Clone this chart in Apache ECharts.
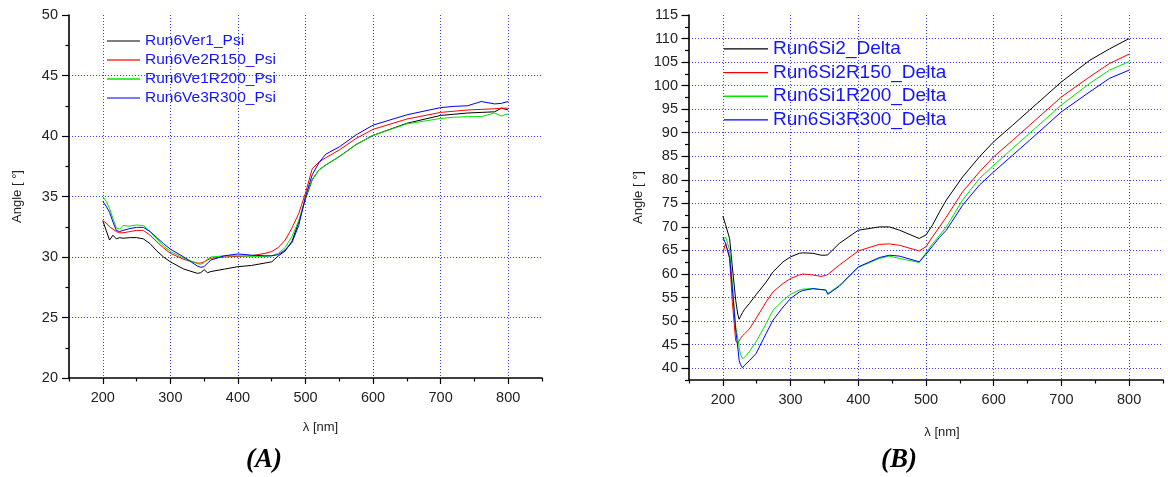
<!DOCTYPE html>
<html>
<head>
<meta charset="utf-8">
<script src="https://cdn.jsdelivr.net/npm/echarts@6/dist/echarts.min.js"></script>
<style>
html,body{margin:0;padding:0;background:#fff;}
#main{width:1168px;height:477px;}
</style>
</head>
<body>
<div id="main"></div>
<script>
// ---------- Data: chart (A) Psi ----------
const lambdaA = [200,205,210,215,220,225,230,240,250,260,270,280,290,300,320,340,345,350,355,360,380,400,420,440,450,460,470,480,490,500,510,520,530,550,575,600,650,700,720,740,760,780,790,800];
const psiVer1 = [33.0,32.2,31.4,31.8,31.5,31.6,31.55,31.6,31.6,31.5,31.1,30.5,30.0,29.6,29.0,28.65,28.7,28.95,28.7,28.8,29.0,29.2,29.3,29.5,29.6,30.1,30.5,31.3,32.9,34.8,36.4,37.2,37.6,38.3,39.3,40.05,41.05,41.7,41.8,41.9,41.95,42.0,42.3,42.15];
const psiR150 = [33.0,32.8,32.5,32.3,32.1,32.0,32.0,32.1,32.2,32.2,31.8,31.25,30.75,30.3,29.8,29.5,29.5,29.6,29.75,29.9,30.0,30.05,30.1,30.3,30.45,30.8,31.4,32.4,33.6,35.3,37.3,37.85,38.2,38.85,39.8,40.55,41.4,41.95,42.05,42.15,42.2,42.25,42.3,42.3];
const psiR200 = [35.0,34.6,34.0,33.2,32.4,32.3,32.6,32.55,32.65,32.6,32.1,31.5,30.9,30.45,29.9,29.45,29.4,29.55,29.85,30.0,30.1,30.1,30.05,30.05,30.1,30.3,30.8,31.7,33.0,34.9,36.4,37.2,37.6,38.3,39.3,40.05,41.0,41.45,41.55,41.6,41.6,41.9,41.65,41.85];
const psiR300 = [34.6,34.2,33.7,32.9,32.2,32.1,32.2,32.35,32.45,32.45,32.1,31.6,31.1,30.65,30.0,29.25,29.15,29.2,29.5,29.75,30.1,30.25,30.15,30.1,30.1,30.2,30.6,31.2,32.6,35.0,36.8,37.8,38.5,39.1,40.1,40.9,41.75,42.35,42.45,42.5,42.85,42.65,42.7,42.85];
const namesA = ['Run6Ver1_Psi','Run6Ve2R150_Psi','Run6Ve1R200_Psi','Run6Ve3R300_Psi'];

// ---------- Data: chart (B) Delta ----------
const lambdaB = [200,204,210,214,219,222,224,226,229,232,239,249,264,274,289,300,313,318,333,345,352,355,357,372,400,431,446,461,490,500,510,520,530,554,579,600,628,653,700,742,771,800];
const deltaSi2   = [72.3,70.5,67.5,61.5,54.4,51.5,50.4,51.0,51.8,52.5,53.7,55.6,58.3,60.45,62.6,63.65,64.4,64.5,64.4,64.0,64.0,64.1,64.2,66.5,69.3,70.0,70.0,69.3,67.55,68.3,70.5,73.2,75.7,80.6,84.9,88.1,91.6,94.8,100.8,105.4,107.8,110.0];
const deltaR150  = [64.4,66.5,63.3,54.0,45.8,45.3,45.6,46.3,46.9,47.3,48.3,50.55,54.1,56.2,58.0,59.05,59.8,60.0,59.8,59.5,59.7,59.9,60.0,61.9,64.9,66.3,66.4,66.1,64.9,65.8,68.0,70.0,72.1,77.45,81.7,84.9,88.4,91.6,97.6,101.9,104.7,106.7];
const deltaR200  = [67.3,67.9,65.1,58.0,48.8,46.5,44.5,43.0,42.05,42.3,43.5,45.6,49.5,52.3,54.4,55.7,56.6,56.8,56.9,56.7,56.6,55.85,56.1,57.6,61.4,63.3,63.8,63.3,62.45,64.5,66.5,68.2,70.0,75.7,80.3,83.1,86.7,89.9,95.9,100.5,103.3,105.1];
const deltaR300  = [67.8,66.5,63.5,57.0,48.1,44.5,41.7,40.8,40.1,40.6,41.6,43.1,47.4,50.2,53.0,54.8,56.2,56.5,56.9,56.7,56.6,55.7,56.0,57.4,61.5,63.5,64.0,63.8,62.6,64.2,66.0,67.8,69.3,74.6,78.9,81.7,85.25,88.4,94.45,98.7,101.55,103.3];
const namesB = ['Run6Si2_Delta','Run6Si2R150_Delta','Run6Si1R200_Delta','Run6Si3R300_Delta'];

// ---------- Tick labels ----------
const xMajor = [200,300,400,500,600,700,800];
const xMinor = [150,250,350,450,550,650,750,850];
const yMajorB = [40,45,50,55,60,65,70,75,80,85,90,95,100,105,110,115];
const yMinorB = [37.5,42.5,47.5,52.5,57.5,62.5,67.5,72.5,77.5,82.5,87.5,92.5,97.5,102.5,107.5,112.5];

const colors = ['#000000','#ff0000','#00e600','#0000ff'];
const legendColors = ['#555555','#ff3030','#00e600','#5050ff'];
const FONT = 'Liberation Sans, Arial, sans-serif';
const gridLine = {show:true, lineStyle:{color:'#3a3aff', type:[1,2], width:1}};

function pairs(xs, ys){ return xs.map((x,i)=>[x, ys[i]]); }

function mainX(gi, gap, pad){
  return {
    gridIndex: gi, type:'value', min:150, max:850, interval:50, position:'bottom',
    axisLine:{show:true, onZero:false, lineStyle:{color:'#000', width:1.6}},
    axisTick:{show:true, customValues:xMajor, length:6, lineStyle:{color:'#000', width:1.2}},
    axisLabel:{customValues:xMajor, margin:12, fontSize:14.5, color:'#222', fontFamily:FONT},
    splitLine:Object.assign({showMinLine:true, showMaxLine:true}, gridLine),
    name:'λ [nm]', nameLocation:'middle', nameGap:gap,
    nameTextStyle:{fontSize:13, color:'#222', fontFamily:FONT, padding:[0,0,0,pad], verticalAlign:'top'}
  };
}
function minorX(gi){
  return {
    gridIndex: gi, type:'value', min:150, max:850, interval:50, position:'bottom',
    axisLine:{show:false, onZero:false},
    axisTick:{show:true, customValues:xMinor, length:3.5, lineStyle:{color:'#000', width:1.2}},
    axisLabel:{show:false}, splitLine:{show:false}
  };
}

const dataA = [psiVer1, psiR150, psiR200, psiR300];
const dataB = [deltaSi2, deltaR150, deltaR200, deltaR300];

const series = [];
namesA.forEach((n,i)=>series.push({
  name:n, type:'line', xAxisIndex:0, yAxisIndex:0, data:pairs(lambdaA, dataA[i]),
  symbol:'none', lineStyle:{color:colors[i], width:1}, itemStyle:{color:legendColors[i]}, z:3+i
}));
namesB.forEach((n,i)=>series.push({
  name:n, type:'line', xAxisIndex:2, yAxisIndex:1, data:pairs(lambdaB, dataB[i]),
  symbol:'none', lineStyle:{color:colors[i], width:1}, itemStyle:{color:colors[i]}, z:3+i
}));

const option = {
  animation:false,
  backgroundColor:'#ffffff',
  grid:[
    {left:69, top:15, width:473, height:363},
    {left:689, top:15, width:474, height:365}
  ],
  xAxis:[ mainX(0, 43, 30), minorX(0), mainX(1, 46, 32), minorX(1) ],
  yAxis:[
    {
      gridIndex:0, type:'value', min:20, max:50, interval:5, position:'left',
      axisLine:{show:true, onZero:false, lineStyle:{color:'#000', width:1.6}},
      axisTick:{show:true, length:7, lineStyle:{color:'#000', width:1.2}},
      minorTick:{show:true, splitNumber:2, length:3.5, lineStyle:{color:'#000', width:1.2}},
      axisLabel:{margin:11, fontSize:14.5, color:'#222', fontFamily:FONT},
      splitLine:Object.assign({showMinLine:false, showMaxLine:false}, gridLine),
      name:'Angle [ °]', nameLocation:'middle', nameGap:45,
      nameTextStyle:{fontSize:13, color:'#222', fontFamily:FONT}
    },
    {
      gridIndex:1, type:'value', min:37.5, max:115, interval:2.5, position:'left',
      axisLine:{show:true, onZero:false, lineStyle:{color:'#000', width:1.6}},
      axisTick:{show:true, customValues:yMajorB, length:7.5, lineStyle:{color:'#000', width:1.2}},
      axisLabel:{customValues:yMajorB, margin:11, fontSize:14.5, color:'#222', fontFamily:FONT},
      splitLine:Object.assign({showMinLine:true, showMaxLine:false}, gridLine),
      name:'Angle [ °]', nameLocation:'middle', nameGap:44,
      nameTextStyle:{fontSize:13, color:'#222', fontFamily:FONT}
    },
    {
      gridIndex:1, type:'value', min:37.5, max:115, interval:2.5, position:'left',
      axisLine:{show:false, onZero:false},
      axisTick:{show:true, customValues:yMinorB, length:4, lineStyle:{color:'#000', width:1.2}},
      axisLabel:{show:false}, splitLine:{show:false}
    }
  ],
  legend:[
    {
      data:namesA, orient:'vertical', left:107, top:31.5, padding:0,
      icon:'rect', itemWidth:33, itemHeight:1.5, itemGap:0, selectedMode:false,
      textStyle:{color:'#1414ff', fontSize:15.5, fontFamily:FONT, lineHeight:19}
    },
    {
      data:namesB, orient:'vertical', left:724, top:37, padding:0,
      icon:'rect', itemWidth:44, itemHeight:1.3, itemGap:0, selectedMode:false,
      textStyle:{color:'#1414ff', fontSize:19, fontFamily:FONT, lineHeight:23.7}
    }
  ],
  graphic:[
    {type:'text', x:264, y:460, style:{text:'(A)', font:'italic bold 27px "Liberation Serif", "Times New Roman", serif', fill:'#000', align:'center', verticalAlign:'middle'}},
    {type:'text', x:899, y:460, style:{text:'(B)', font:'italic bold 27px "Liberation Serif", "Times New Roman", serif', fill:'#000', align:'center', verticalAlign:'middle'}}
  ],
  series: series
};

const chart = echarts.init(document.getElementById('main'), null, {renderer:'canvas'});
chart.setOption(option);
</script>
</body>
</html>
